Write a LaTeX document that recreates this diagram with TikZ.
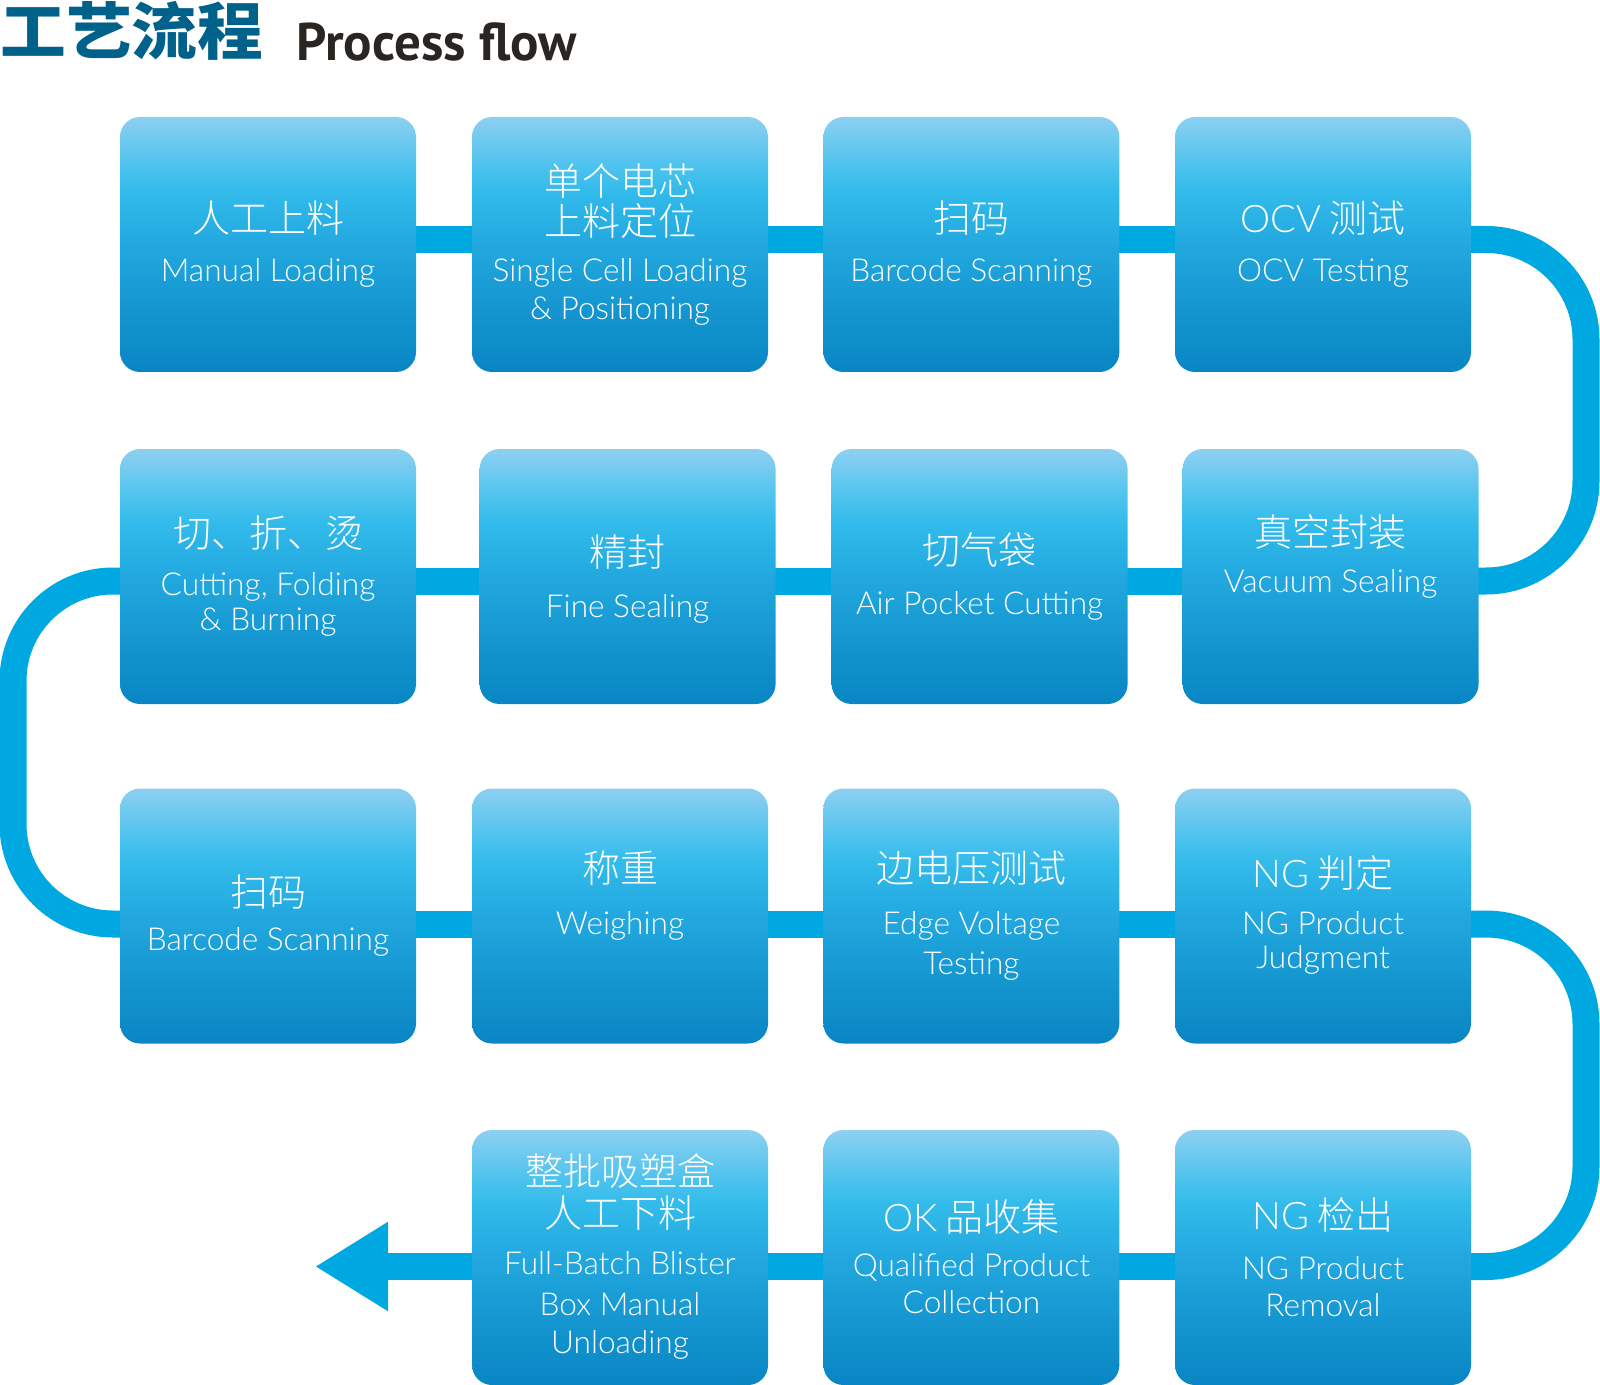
\documentclass[tikz,border=0pt]{standalone}
\usepackage{fontspec}
\usetikzlibrary{arrows.meta}
\newfontfamily\cjk{Noto Sans CJK SC Light}
\newfontfamily\cjkb{Noto Sans CJK SC}
\newfontfamily\enfont{Lato Light}
\newfontfamily\titlefont{PT Sans}
\definecolor{btop}{HTML}{8DD0F1}
\definecolor{bm1}{HTML}{4AC2EE}
\definecolor{bm2}{HTML}{31BAEA}
\definecolor{bm3}{HTML}{22A8DF}
\definecolor{bm4}{HTML}{1596D0}
\definecolor{bbot}{HTML}{0886C4}
\definecolor{connblue}{HTML}{00A8E2}
\definecolor{titleblue}{HTML}{00618A}
\definecolor{titledark}{HTML}{2B2522}
\pgfdeclareverticalshading{boxshade}{100bp}{color(0bp)=(bbot); color(25bp)=(bbot); color(37.5bp)=(bm4); color(50bp)=(bm3); color(60bp)=(bm2); color(65bp)=(bm1); color(75bp)=(btop); color(100bp)=(btop)}
\pgfdeclarelayer{bg}
\pgfsetlayers{bg,main}
\tikzset{
  box/.style={shade, shading=boxshade, rounded corners=10pt, minimum width=148pt, minimum height=127.5pt, inner sep=0pt, draw=none},
  cn/.style={text=white, font=\cjk\fontsize{19}{19}\selectfont, inner sep=0pt, text height=0.76em, text depth=0pt, yshift=-4pt},
  en/.style={text=white, font=\enfont\fontsize{15.8}{15.8}\selectfont, inner sep=0pt, text height=0.72em, text depth=0pt, yshift=-1.5pt},
  conn/.style={draw=connblue, line width=13.5pt},
  rowa/.style={yshift=2.5pt},
  rowb/.style={yshift=-2.25pt},
  rowc/.style={yshift=-4pt},
  rowd/.style={yshift=-4.5pt}
}
\begin{document}
\begin{tikzpicture}[x=0.5pt,y=-0.5pt]
\useasboundingbox (0,0) rectangle (1600,1385);
% title
\node[anchor=west, inner sep=0pt, text=titleblue, xscale=1.06, font=\cjkb\bfseries\fontsize{31}{31}\selectfont] (tcn) at (0,31) {工艺流程};
\node[anchor=base west, inner sep=0pt, text=titledark, font=\titlefont\bfseries\fontsize{26.5}{26.5}\selectfont] (ten) at (296,61) {Process flow};
% boxes
\node[box] (b1) at (268,244.5) {};
\node[box] (b2) at (620,244.5) {};
\node[box] (b3) at (971.4,244.5) {};
\node[box] (b4) at (1323,244.5) {};
\node[box] (b5) at (268,576.5) {};
\node[box] (b6) at (627.6,576.5) {};
\node[box] (b7) at (979.6,576.5) {};
\node[box] (b8) at (1330.6,576.5) {};
\node[box] (b9) at (268,916) {};
\node[box] (b10) at (620,916) {};
\node[box] (b11) at (971.4,916) {};
\node[box] (b12) at (1323,916) {};
\node[box] (b13) at (620,1257.5) {};
\node[box] (b14) at (971.4,1257.5) {};
\node[box] (b15) at (1323,1257.5) {};
% texts
\node[cn] (t1a) at (268,217) {人工上料};
\node[en] (t1b) at (268,271) {Manual Loading};
\node[cn] (t2a) at (620,180) {单个电芯};
\node[cn] (t2b) at (620,220) {上料定位};
\node[en] (t2c) at (620,271) {Single Cell Loading};
\node[en] (t2d) at (620,309) {\& Positioning};
\node[cn] (t3a) at (971.4,217) {扫码};
\node[en] (t3b) at (971.4,271) {Barcode Scanning};
\node[cn] (t4a) at (1323,217) {{\enfont OCV} 测试};
\node[en] (t4b) at (1323,271) {OCV Testing};
\node[cn] (t5a) at (268,532) {切、折、烫};
\node[en] (t5b) at (268,585) {Cutting, Folding};
\node[en] (t5c) at (268,620) {\& Burning};
\node[cn] (t6a) at (627.6,551) {精封};
\node[en] (t6b) at (627.6,607) {Fine Sealing};
\node[cn] (t7a) at (979.6,549) {切气袋};
\node[en] (t7b) at (979.6,604) {Air Pocket Cutting};
\node[cn] (t8a) at (1330.6,531) {真空封装};
\node[en] (t8b) at (1330.6,582) {Vacuum Sealing};
\node[cn] (t9a) at (268,891) {扫码};
\node[en] (t9b) at (268,940) {Barcode Scanning};
\node[cn] (t10a) at (620,867) {称重};
\node[en] (t10b) at (620,924) {Weighing};
\node[cn] (t11a) at (971.4,867) {边电压测试};
\node[en] (t11b) at (971.4,924) {Edge Voltage};
\node[en] (t11c) at (971.4,964) {Testing};
\node[cn] (t12a) at (1323,872) {{\enfont NG} 判定};
\node[en] (t12b) at (1323,924) {NG Product};
\node[en] (t12c) at (1323,958) {Judgment};
\node[cn] (t13a) at (620,1170) {整批吸塑盒};
\node[cn] (t13b) at (620,1212) {人工下料};
\node[en] (t13c) at (620,1264.5) {Full-Batch Blister};
\node[en] (t13d) at (620,1305) {Box Manual};
\node[en] (t13e) at (620,1343) {Unloading};
\node[cn] (t14a) at (971.4,1216) {{\enfont OK} 品收集};
\node[en] (t14b) at (971.4,1266) {Qualified Product};
\node[en] (t14c) at (971.4,1303) {Collection};
\node[cn] (t15a) at (1323,1214) {{\enfont NG} 检出};
\node[en] (t15b) at (1323,1269) {NG Product};
\node[en] (t15c) at (1323,1306) {Removal};
% connector coordinates
\coordinate (r1) at (1586,239.5);
\coordinate (r2) at (1586,581);
\coordinate (l1) at (13,581);
\coordinate (l2) at (13,924);
\coordinate (r3) at (1586,924);
\coordinate (r4) at (1586,1266.5);
\coordinate (arrowend) at (315,1266.5);
\begin{pgfonlayer}{bg}
\draw[conn] ([rowa]b1.center) -- ([rowa]b2.center) -- ([rowa]b3.center) -- ([rowa]b4.center);
\draw[conn, rounded corners=50pt] ([rowa]b4.center) -- (r1) -- (r2) -- ([rowb]b8.center);
\draw[conn] ([rowb]b8.center) -- ([rowb]b7.center) -- ([rowb]b6.center) -- ([rowb]b5.center);
\draw[conn, rounded corners=50pt] ([rowb]b5.center) -- (l1) -- (l2) -- ([rowc]b9.center);
\draw[conn] ([rowc]b9.center) -- ([rowc]b10.center) -- ([rowc]b11.center) -- ([rowc]b12.center);
\draw[conn, rounded corners=50pt] ([rowc]b12.center) -- (r3) -- (r4) -- ([rowd]b15.center);
\draw[conn] ([rowd]b15.center) -- ([rowd]b14.center) -- ([rowd]b13.center);
\draw[conn, -{Triangle[length=36.5pt, width=42pt]}] ([rowd]b13.center) -- (arrowend);
\end{pgfonlayer}
\end{tikzpicture}
\end{document}
